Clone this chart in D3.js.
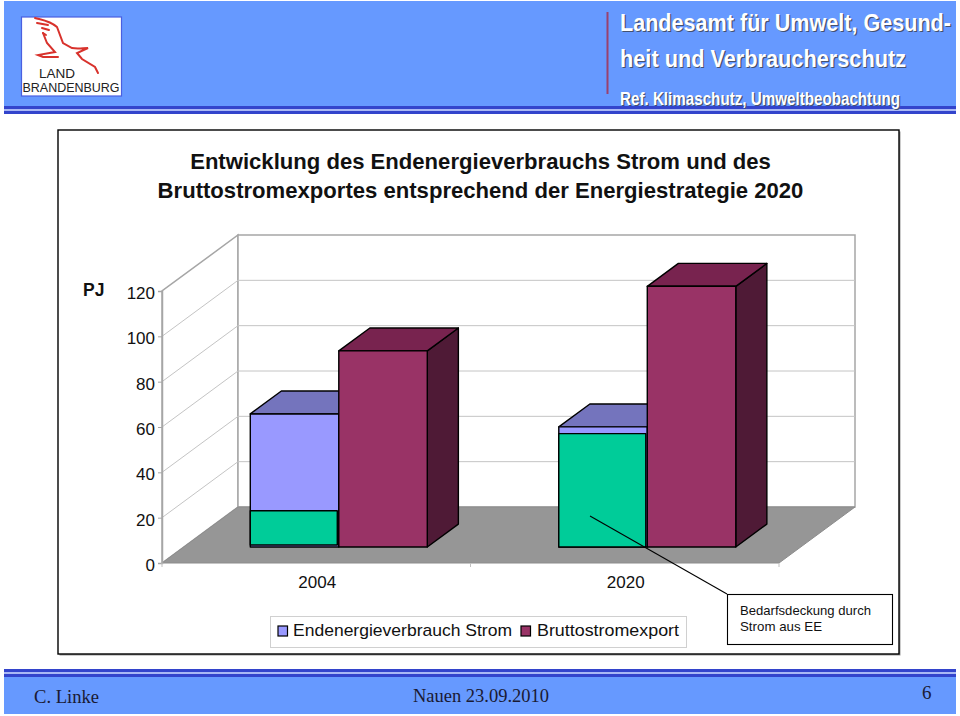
<!DOCTYPE html>
<html>
<head>
<meta charset="utf-8">
<title>Endenergieverbrauch Strom</title>
<script src="https://cdnjs.cloudflare.com/ajax/libs/d3/7.8.5/d3.min.js"></script>
<style>
  html, body { margin: 0; padding: 0; background: #fff; }
  svg { display: block; }
  text { font-family: "Liberation Sans", Arial, sans-serif; }
</style>
</head>
<body>
<script>
// values (PJ)
var years = ["2004", "2020"];
var verbrauch = [58.7, 53];
var export_ = [86.5, 115];
var eeStart = [0.9, 0];
var eeEnd = [16, 50];
var yTicks = [0, 20, 40, 60, 80, 100, 120];
var seriesNames = ["Endenergieverbrauch Strom", "Bruttostromexport"];
var titleLines = ["Entwicklung des Endenergieverbrauchs Strom und des",
                  "Bruttostromexportes entsprechend der Energiestrategie 2020"];

var svg = d3.select("body").append("svg")
            .attr("width", 960)
            .attr("height", 716);

// ---- slide frame
function band(y, h) {
  svg.append("rect").attr("x", 4).attr("y", y).attr("width", 952).attr("height", h).attr("fill", "#6699ff");
}
function stripes(y) {
  svg.append("rect").attr("x", 4).attr("y", y).attr("width", 952).attr("height", 8).attr("fill", "#3344cc");
  svg.append("rect").attr("x", 4).attr("y", y + 3).attr("width", 952).attr("height", 2).attr("fill", "#aab8f5");
}
band(1, 106);
stripes(106);
band(675, 39);
stripes(669);

// logo
var logo = svg.append("g");
logo.append("rect").attr("x", 21.5).attr("y", 17).attr("width", 100).attr("height", 79)
    .attr("fill", "#fff").attr("stroke", "#4a5fe0").attr("stroke-width", 1.2);
var bird = [
  "M35,18 C42,20 50,21 57,27 L63,43 L72,48 C78,49 83,48 88,48 L77,53 L82,59 L95,67 L98,73",
  "M37,23 L48,25", "M42,28 L49,30", "M43,33 L46,35",
  "M43,33 L47,43 L55,52 L38,55 L43,57 L58,57"
];
logo.selectAll("path").data(bird).enter().append("path")
    .attr("d", function(d) { return d; })
    .attr("fill", "none")
    .attr("stroke", "#d8322c")
    .attr("stroke-width", 2)
    .attr("stroke-linecap", "round");
logo.append("text").attr("x", 39).attr("y", 77.5)
    .attr("font-size", 13.5).attr("textLength", 36).attr("lengthAdjust", "spacingAndGlyphs")
    .attr("fill", "#222").text("LAND");
logo.append("text").attr("x", 22.5).attr("y", 92)
    .attr("font-size", 13.5).attr("textLength", 97).attr("lengthAdjust", "spacingAndGlyphs")
    .attr("fill", "#222").text("BRANDENBURG");

// header text
svg.append("rect").attr("x", 606.5).attr("y", 12).attr("width", 2).attr("height", 82).attr("fill", "#99416e");
var headerLines = [
  { t: "Landesamt für Umwelt, Gesund-", y: 31, s: 22, w: 331 },
  { t: "heit und Verbraucherschutz", y: 67, s: 22, w: 286 },
  { t: "Ref. Klimaschutz, Umweltbeobachtung", y: 105, s: 16.5, w: 280 }
];
[["#44516f", 1.2], ["#fff", 0]].forEach(function(layer) {
  svg.selectAll(null).data(headerLines).enter().append("text")
     .attr("transform", function(d) { return "translate(" + (620 + layer[1]) + "," + (d.y + layer[1]) + ") scale(1,1.08)"; })
     .attr("font-size", function(d) { return d.s; })
     .attr("font-weight", "bold")
     .attr("textLength", function(d) { return d.w; })
     .attr("lengthAdjust", "spacingAndGlyphs")
     .attr("fill", layer[0])
     .text(function(d) { return d.t; });
});

// footer text
var footer = svg.append("g").attr("fill", "#1a1a33");
footer.append("text").attr("x", 34).attr("y", 703).attr("font-size", 19)
      .style("font-family", "'Liberation Serif', serif").attr("textLength", 65).attr("lengthAdjust", "spacingAndGlyphs").text("C. Linke");
footer.append("text").attr("x", 413).attr("y", 702).attr("font-size", 19)
      .style("font-family", "'Liberation Serif', serif").attr("textLength", 136).attr("lengthAdjust", "spacingAndGlyphs").text("Nauen 23.09.2010");
footer.append("text").attr("x", 922).attr("y", 699).attr("font-size", 19)
      .style("font-family", "'Liberation Serif', serif").text("6");

// ---- chart box
svg.append("rect").attr("x", 59.5).attr("y", 131.5).attr("width", 841).attr("height", 524).attr("fill", "#999");
svg.append("rect").attr("x", 58).attr("y", 130).attr("width", 841).attr("height", 524)
   .attr("fill", "#fff").attr("stroke", "#000").attr("stroke-width", 1.4);

svg.selectAll(".title").data(titleLines).enter().append("text")
   .attr("class", "title")
   .attr("x", 480.5)
   .attr("y", function(d, i) { return 169 + i * 29; })
   .attr("text-anchor", "middle")
   .attr("font-size", 22.1)
   .attr("font-weight", "bold")
   .attr("fill", "#111")
   .text(function(d) { return d; });

// ---- pseudo 3d plot
var left = 162, right = 779, bottom = 563, top_ = 291;
var depthX = 76, depthY = 56;

var y = d3.scaleLinear().domain([0, 120]).range([bottom, top_]);
var x = d3.scaleBand().domain(years).range([left, right]);
var inner = d3.scaleBand().domain([0, 1]).range([0, 177]);

// z is 0 at the front of the floor, 1 at the back wall
function px(xv, z) { return xv + z * depthX; }
function py(v, z) { return y(v) - z * depthY; }
function poly(points) { return "M" + points.map(function(p) { return p.join(","); }).join("L") + "Z"; }

var wallStroke = "#a6a6a6";
svg.append("path")
   .attr("d", poly([[px(left, 0), py(0, 0)], [px(left, 1), py(0, 1)], [px(left, 1), py(120, 1)], [px(left, 0), py(120, 0)]]))
   .attr("fill", "#fff").attr("stroke", wallStroke).attr("stroke-width", 1.5);
svg.append("path")
   .attr("d", poly([[px(left, 1), py(0, 1)], [px(right, 1), py(0, 1)], [px(right, 1), py(120, 1)], [px(left, 1), py(120, 1)]]))
   .attr("fill", "#fff").attr("stroke", wallStroke).attr("stroke-width", 1.5);

var grid = yTicks.slice(1, -1);
svg.selectAll(".gridback").data(grid).enter().append("line")
   .attr("x1", px(left, 1)).attr("x2", px(right, 1))
   .attr("y1", function(d) { return py(d, 1); }).attr("y2", function(d) { return py(d, 1); })
   .attr("stroke", "#c4c4c4");
svg.selectAll(".gridside").data(grid).enter().append("line")
   .attr("x1", px(left, 0)).attr("x2", px(left, 1))
   .attr("y1", function(d) { return py(d, 0); }).attr("y2", function(d) { return py(d, 1); })
   .attr("stroke", "#c4c4c4");

// floor
svg.append("path")
   .attr("d", poly([[px(left, 0), py(0, 0)], [px(right, 0), py(0, 0)], [px(right, 1), py(0, 1)], [px(left, 1), py(0, 1)]]))
   .attr("fill", "#969696").attr("stroke", "#8c8c8c");

// axes
var yAxis = d3.axisLeft(y).tickValues(yTicks).tickSize(4).tickPadding(3);
var yG = svg.append("g").attr("transform", "translate(" + left + ",0)").call(yAxis);
yG.select(".domain").attr("stroke", wallStroke).attr("stroke-width", 1.5);
yG.selectAll(".tick line").attr("stroke", wallStroke);
yG.selectAll(".tick text").attr("font-size", 17).attr("fill", "#111").attr("dy", "0.45em")
  .style("font-family", "'Liberation Sans', sans-serif");

var xAxis = d3.axisBottom(x).tickSize(0).tickPadding(13);
var xG = svg.append("g").attr("transform", "translate(1," + bottom + ")").call(xAxis);
xG.select(".domain").remove();
xG.selectAll(".tick text").attr("font-size", 17).attr("fill", "#111")
  .style("font-family", "'Liberation Sans', sans-serif");
svg.selectAll(".xedge").data([left, left + x.step(), right]).enter().append("line")
   .attr("x1", function(d) { return d; }).attr("x2", function(d) { return d; })
   .attr("y1", bottom).attr("y2", bottom + 4)
   .attr("stroke", "#c0c0c0");

svg.append("text").attr("x", 83).attr("y", 296).attr("font-size", 17.5).attr("font-weight", "bold")
   .attr("fill", "#111").text("PJ");

// bars: front face sits at z0, back face at z1
var z0 = 0.286, z1 = 0.695;
var barBase = function(i) { return x(years[i]) + (x.bandwidth() - 177) / 2 + 0.8; };

function front(i, slot, v0, v1, fill, shrink) {
  var xa = px(barBase(i) + inner(slot), z0);
  var xb = xa + inner.bandwidth() - (shrink || 0);
  svg.append("path")
     .attr("d", poly([[xa, py(v0, z0)], [xb, py(v0, z0)], [xb, py(v1, z0)], [xa, py(v1, z0)]]))
     .attr("fill", fill).attr("stroke", "#000").attr("stroke-width", 1.4).attr("stroke-linejoin", "round");
}
function topFace(i, slot, v, fill) {
  var xa = barBase(i) + inner(slot), xb = xa + inner.bandwidth();
  svg.append("path")
     .attr("d", poly([[px(xa, z0), py(v, z0)], [px(xb, z0), py(v, z0)], [px(xb, z1), py(v, z1)], [px(xa, z1), py(v, z1)]]))
     .attr("fill", fill).attr("stroke", "#000").attr("stroke-width", 1.4).attr("stroke-linejoin", "round");
}
function sideFace(i, slot, v, fill) {
  var xb = barBase(i) + inner(slot) + inner.bandwidth();
  svg.append("path")
     .attr("d", poly([[px(xb, z0), py(0, z0)], [px(xb, z1), py(0, z1)], [px(xb, z1), py(v, z1)], [px(xb, z0), py(v, z0)]]))
     .attr("fill", fill).attr("stroke", "#000").attr("stroke-width", 1.4).attr("stroke-linejoin", "round");
}

years.forEach(function(yr, i) {
  topFace(i, 0, verbrauch[i], "#7474bd");
  front(i, 0, 0, verbrauch[i], "#9999ff");
  front(i, 0, eeStart[i], eeEnd[i], "#00cc99", 1.5);
  sideFace(i, 1, export_[i], "#4f1a36");
  topFace(i, 1, export_[i], "#78234f");
  front(i, 1, 0, export_[i], "#993366");
});

// ---- legend
var legend = svg.append("g");
legend.append("rect").attr("x", 270.5).attr("y", 616.5).attr("width", 416).attr("height", 31)
      .attr("fill", "#fff").attr("stroke", "#d0d0d0");
var legendItems = [
  { name: seriesNames[0], box: 278, tx: 293, w: 219, fill: "#9999ff" },
  { name: seriesNames[1], box: 521, tx: 537, w: 142, fill: "#993366" }
];
legend.selectAll("rect.key").data(legendItems).enter().append("rect")
      .attr("class", "key")
      .attr("x", function(d) { return d.box; }).attr("y", 626)
      .attr("width", 9.5).attr("height", 10)
      .attr("fill", function(d) { return d.fill; })
      .attr("stroke", "#000").attr("stroke-width", 1.2);
legend.selectAll("text").data(legendItems).enter().append("text")
      .attr("x", function(d) { return d.tx; }).attr("y", 636)
      .attr("font-size", 17)
      .attr("textLength", function(d) { return d.w; })
      .attr("lengthAdjust", "spacingAndGlyphs")
      .attr("fill", "#111")
      .text(function(d) { return d.name; });

// ---- callout
svg.append("line").attr("x1", 590).attr("y1", 516).attr("x2", 727).attr("y2", 594)
   .attr("stroke", "#000").attr("stroke-width", 1.1);
svg.append("rect").attr("x", 727.5).attr("y", 594.5).attr("width", 165).attr("height", 50)
   .attr("fill", "#fff").attr("stroke", "#000").attr("stroke-width", 1.1);
svg.selectAll(".note").data(["Bedarfsdeckung durch", "Strom aus EE"]).enter().append("text")
   .attr("class", "note")
   .attr("x", 740)
   .attr("y", function(d, i) { return 615 + i * 16; })
   .attr("font-size", 13)
   .attr("textLength", function(d, i) { return i === 0 ? 131 : 82; })
   .attr("lengthAdjust", "spacingAndGlyphs")
   .attr("fill", "#111")
   .text(function(d) { return d; });
</script>
</body>
</html>
